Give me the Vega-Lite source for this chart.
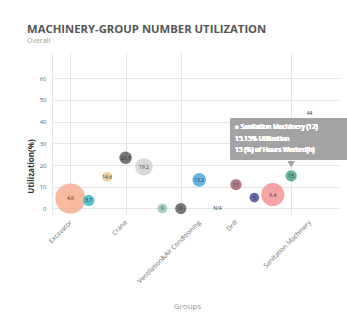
{
  "$schema": "https://vega.github.io/schema/vega-lite/v6.json",
  "autosize": "none",
  "width": 287,
  "height": 163,
  "padding": {"left": 52, "top": 52, "right": 8, "bottom": 101},
  "background": "white",
  "title": {
    "text": "MACHINERY-GROUP NUMBER UTILIZATION",
    "subtitle": "Overall",
    "anchor": "start",
    "frame": "bounds",
    "font": "Open Sans",
    "fontSize": 11.3,
    "fontWeight": "bold",
    "color": "#555555",
    "subtitleFont": "Open Sans",
    "subtitleFontSize": 7,
    "subtitleColor": "#999999",
    "subtitlePadding": 2,
    "offset": 8
  },
  "config": {
    "view": {"stroke": null},
    "font": "Open Sans"
  },
  "data": {
    "values": [
      {"idx": 0, "util": 4.6, "machines": 29, "label": "4.6"},
      {"idx": 1, "util": 3.7, "machines": 4, "label": "3.7"},
      {"idx": 2, "util": 14.6, "machines": 3, "label": "14.6"},
      {"idx": 3, "util": 23.3, "machines": 5, "label": "23.3"},
      {"idx": 4, "util": 19.2, "machines": 10, "label": "19.2"},
      {"idx": 5, "util": 0, "machines": 3, "label": "0"},
      {"idx": 6, "util": 0, "machines": 4, "label": "0"},
      {"idx": 7, "util": 13.2, "machines": 6, "label": "13.2"},
      {"idx": 8, "util": 0, "machines": 0, "label": "N/A"},
      {"idx": 9, "util": 11, "machines": 4, "label": "11"},
      {"idx": 10, "util": 5, "machines": 3, "label": "5"},
      {"idx": 11, "util": 6.4, "machines": 17, "label": "6.4"},
      {"idx": 12, "util": 15, "machines": 4, "label": "15"},
      {"idx": 13, "util": 44, "machines": 0, "label": "44"}
    ]
  },
  "encoding": {
    "x": {
      "field": "idx",
      "type": "quantitative",
      "scale": {"domain": [-1, 14.6], "nice": false, "zero": false},
      "axis": {
        "values": [-1, 0, 3, 6, 7, 9, 12, 13],
        "labelExpr": "datum.value==0?'Excavator':datum.value==3?'Crane':datum.value==7?'Ventilation&Air Conditioning':datum.value==9?'Drill':datum.value==13?'Sanitation Machinery':''",
        "labelAngle": -45,
        "labelAlign": "right",
        "labelBaseline": "middle",
        "labelFontSize": 6.5,
        "labelColor": "#666666",
        "labelPadding": 6,
        "labelDx": 10,
        "labelDy": 6,
        "labelOverlap": false,
        "labelBound": false,
        "labelFlush": false,
        "domain": false,
        "ticks": false,
        "grid": true,
        "gridColor": "#e6e6e6",
        "gridOpacity": {"condition": {"test": "indexof([-1,0,3,6,12], datum.value) >= 0", "value": 1}, "value": 0},
        "title": "Groups",
        "titleFontSize": 8,
        "titleFontWeight": "normal",
        "titleColor": "#999999",
        "titleY": 87,
        "titleX": 135
      }
    },
    "y": {
      "field": "util",
      "type": "quantitative",
      "scale": {"domain": [-3, 72], "nice": false, "zero": false},
      "axis": {
        "values": [0, 10, 20, 30, 40, 50, 60],
        "labelFontSize": 6,
        "labelColor": "#666666",
        "labelPadding": 6,
        "domain": false,
        "ticks": false,
        "grid": true,
        "gridColor": "#e6e6e6",
        "title": "Utilization(%)",
        "titleFontSize": 8,
        "titleFontWeight": "bold",
        "titleColor": "#333333",
        "titleY": 114,
        "titleX": -17
      }
    }
  },
  "layer": [
    {
      "mark": {"type": "point", "filled": true, "opacity": 0.8, "shape": "circle"},
      "encoding": {
        "size": {"field": "machines", "type": "quantitative", "scale": {"domain": [0, 29], "range": [0, 908]}, "legend": null},
        "color": {
          "field": "idx",
          "type": "nominal",
          "legend": null,
          "scale": {
            "domain": [0,1,2,3,4,5,6,7,8,9,10,11,12,13],
            "range": ["#f7a98b","#2bb5c8","#e9c98f","#555555","#cfcfcf","#8cc7b0","#555555","#3fa3e0","#999999","#a05a66","#3d4596","#f48c8c","#3e9e77","#555555"]
          }
        }
      }
    },
    {
      "mark": {"type": "text", "fontSize": 5, "color": "#333333"},
      "encoding": {"text": {"field": "label"}}
    },
    {
      "mark": {"type": "rect", "fill": "#a3a3a3", "opacity": 0.92, "cornerRadius": 2},
      "encoding": {
        "x": {"datum": 8.7},
        "x2": {"datum": 15.3},
        "y": {"datum": 22.3},
        "y2": {"datum": 41.6}
      }
    },
    {
      "mark": {"type": "point", "shape": "triangle-down", "filled": true, "fill": "#a3a3a3", "opacity": 0.92, "size": 40},
      "encoding": {"x": {"datum": 12}, "y": {"datum": 20.6}}
    },
    {
      "mark": {"type": "text", "align": "left", "baseline": "middle", "fontSize": 6.5, "color": "white"},
      "encoding": {
        "x": {"datum": 8.95},
        "y": {"datum": 37.3},
        "text": {"value": "● Sanitation Machinery (12)"}
      }
    },
    {
      "mark": {"type": "text", "align": "left", "baseline": "middle", "fontSize": 6.5, "color": "white"},
      "encoding": {
        "x": {"datum": 8.95},
        "y": {"datum": 32},
        "text": {"value": "15.15% Utilization"}
      }
    },
    {
      "mark": {"type": "text", "align": "left", "baseline": "middle", "fontSize": 6.5, "color": "white"},
      "encoding": {
        "x": {"datum": 8.95},
        "y": {"datum": 26.9},
        "text": {"value": "15 (%) of Hours Worked(h)"}
      }
    }
  ]
}
